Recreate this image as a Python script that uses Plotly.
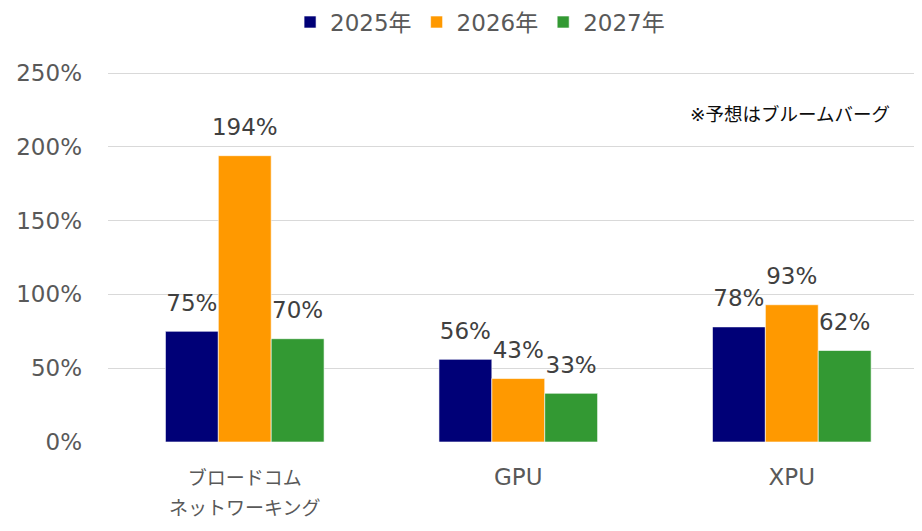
import plotly.graph_objects as go

categories = ['ブロードコム<br>ネットワーキング', 'GPU', 'XPU']
years = ['2025年', '2026年', '2027年']
values_2025 = [75, 56, 78]
values_2026 = [194, 43, 93]
values_2027 = [70, 33, 62]
series_values = [values_2025, values_2026, values_2027]
y_ticks = [0, 50, 100, 150, 200, 250]
y_tick_labels = ['0%', '50%', '100%', '150%', '200%', '250%']
colors = ['#000077', '#FF9900', '#339933']
note_text = '※予想はブルームバーグ'

font_family = 'DejaVu Sans, Noto Sans CJK JP, sans-serif'


def shrink_kana(label):
    # kana in the source font run narrower than the latin text
    parts = []
    for line in label.split('<br>'):
        if any(ord(ch) > 0x2000 for ch in line):
            line = f'<span style="font-size:19px">{line}</span>'
        parts.append(line)
    return '<br>'.join(parts)


fig = go.Figure()
for name, vals, color in zip(years, series_values, colors):
    fig.add_trace(go.Bar(
        x=categories,
        y=vals,
        name=name,
        marker=dict(color=color, line=dict(width=1, color='rgba(255,255,255,0.6)'))))

# value labels, grouped like the bars, lifted off the bar tops
for name, vals in zip(years, series_values):
    fig.add_trace(go.Scatter(
        x=categories,
        y=vals,
        mode='markers+text',
        marker=dict(size=22, opacity=0),
        text=[f'{v}%' for v in vals],
        textposition='top center',
        textfont=dict(size=23, color='#404040'),
        cliponaxis=False,
        showlegend=False,
        hoverinfo='skip'))

fig.add_annotation(
    text=note_text,
    xref='paper', yref='y',
    x=0.838, y=222,
    xanchor='center',
    showarrow=False,
    font=dict(size=18.5, color='#0d0d0d'))

fig.update_layout(
    width=922,
    height=531,
    barmode='group',
    bargap=0.42,
    bargroupgap=0,
    scattermode='group',
    scattergap=0.42,
    font=dict(family=font_family, color='#595959'),
    plot_bgcolor='white',
    paper_bgcolor='white',
    margin=dict(l=100, r=8, t=64, b=97, autoexpand=False),
    legend=dict(
        orientation='h',
        xref='container', yref='paper',
        x=0.512, xanchor='center',
        y=1.135, yanchor='middle',
        font=dict(size=23, color='#595959'),
        itemwidth=30,
        traceorder='normal'),
    showlegend=True)

fig.update_yaxes(
    range=[0, 250.7],
    tickvals=y_ticks,
    ticktext=y_tick_labels,
    showgrid=True,
    gridcolor='#d9d9d9',
    gridwidth=1,
    zeroline=False,
    showline=False,
    automargin=False,
    tickfont=dict(size=23, color='#595959'),
    ticklabelstandoff=25)

fig.update_xaxes(
    range=[-0.5, 2.476],
    tickvals=categories,
    ticktext=[shrink_kana(c) for c in categories],
    showline=False,
    automargin=False,
    tickfont=dict(size=23, color='#595959'),
    ticklabelstandoff=19)

fig.write_html('out.html')
